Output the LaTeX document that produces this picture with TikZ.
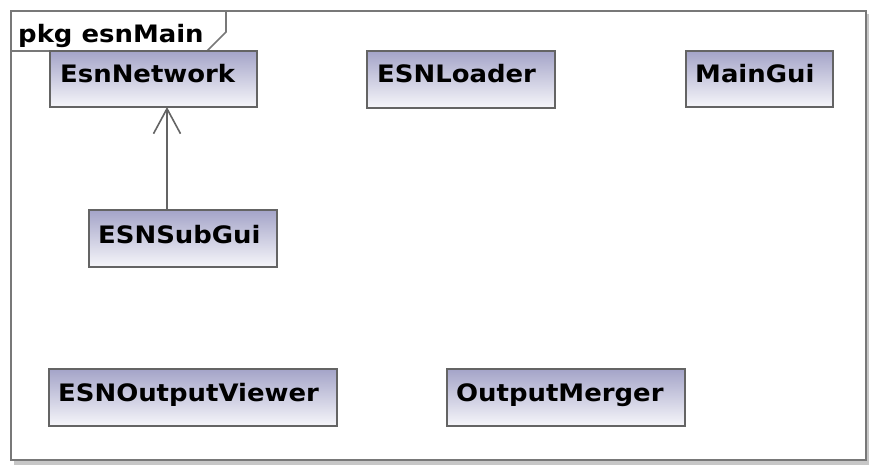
\documentclass[tikz,border=0pt]{standalone}
\usepackage{fontspec}
\newfontfamily\umlfont{DejaVu Sans}[FakeStretch=1.08]
\usetikzlibrary{arrows.meta,calc}
\definecolor{boxtop}{RGB}{164,164,200}
\definecolor{boxbot}{RGB}{246,246,250}
\definecolor{edge}{RGB}{100,100,100}
\definecolor{framec}{RGB}{120,120,120}
\tikzset{
  cls/.style={draw=edge, line width=1.8pt, top color=boxtop, bottom color=boxbot,
    anchor=north west, inner sep=0pt, outer sep=0pt},
  clstext/.style={anchor=base west, inner sep=0pt, font=\umlfont\bfseries\fontsize{24}{28}\selectfont},
  gen/.style={draw=edge, line width=1.6pt, -{Straight Barb[length=25pt,width=27pt,line width=1.6pt]}}
}
\begin{document}
\begin{tikzpicture}[x=1pt,y=-1pt]
\useasboundingbox (0,0) rectangle (869,468);
\fill[white] (0,0) rectangle (869,468);
% frame shadow and frame
\fill[black!22] (14,14) rectangle (869,465);
\fill[white] (11,11) rectangle (866,460);
\draw[framec, line width=2pt] (11,11) rectangle (866,460);
\draw[framec, line width=1.6pt, fill=white] (11,11) -- (226,11) -- (226,32) -- (207,51) -- (11,51) -- cycle;
\node[clstext] (title) at (18,43) {pkg esnMain};
% classes
\node[cls, minimum width=207pt, minimum height=56pt] (esnnet) at (50,51) {};
\node[clstext] (esnnetT) at ($(esnnet.north west)+(10,32)$) {EsnNetwork};
\node[cls, minimum width=188pt, minimum height=57pt] (loader) at (367,51) {};
\node[clstext] (loaderT) at ($(loader.north west)+(10,32)$) {ESNLoader};
\node[cls, minimum width=147pt, minimum height=56pt] (maingui) at (686,51) {};
\node[clstext] (mainguiT) at ($(maingui.north west)+(9,32)$) {MainGui};
\node[cls, minimum width=188pt, minimum height=57pt] (subgui) at (89,210) {};
\node[clstext] (subguiT) at ($(subgui.north west)+(9,33)$) {ESNSubGui};
\node[cls, minimum width=288pt, minimum height=57pt] (viewer) at (49,369) {};
\node[clstext] (viewerT) at ($(viewer.north west)+(9,32)$) {ESNOutputViewer};
\node[cls, minimum width=238pt, minimum height=57pt] (merger) at (447,369) {};
\node[clstext] (mergerT) at ($(merger.north west)+(9,32)$) {OutputMerger};
% open-headed arrow from ESNSubGui to EsnNetwork
\draw[gen] (subgui.north -| 167,0) -- (esnnet.south -| 167,0);
\end{tikzpicture}
\end{document}
